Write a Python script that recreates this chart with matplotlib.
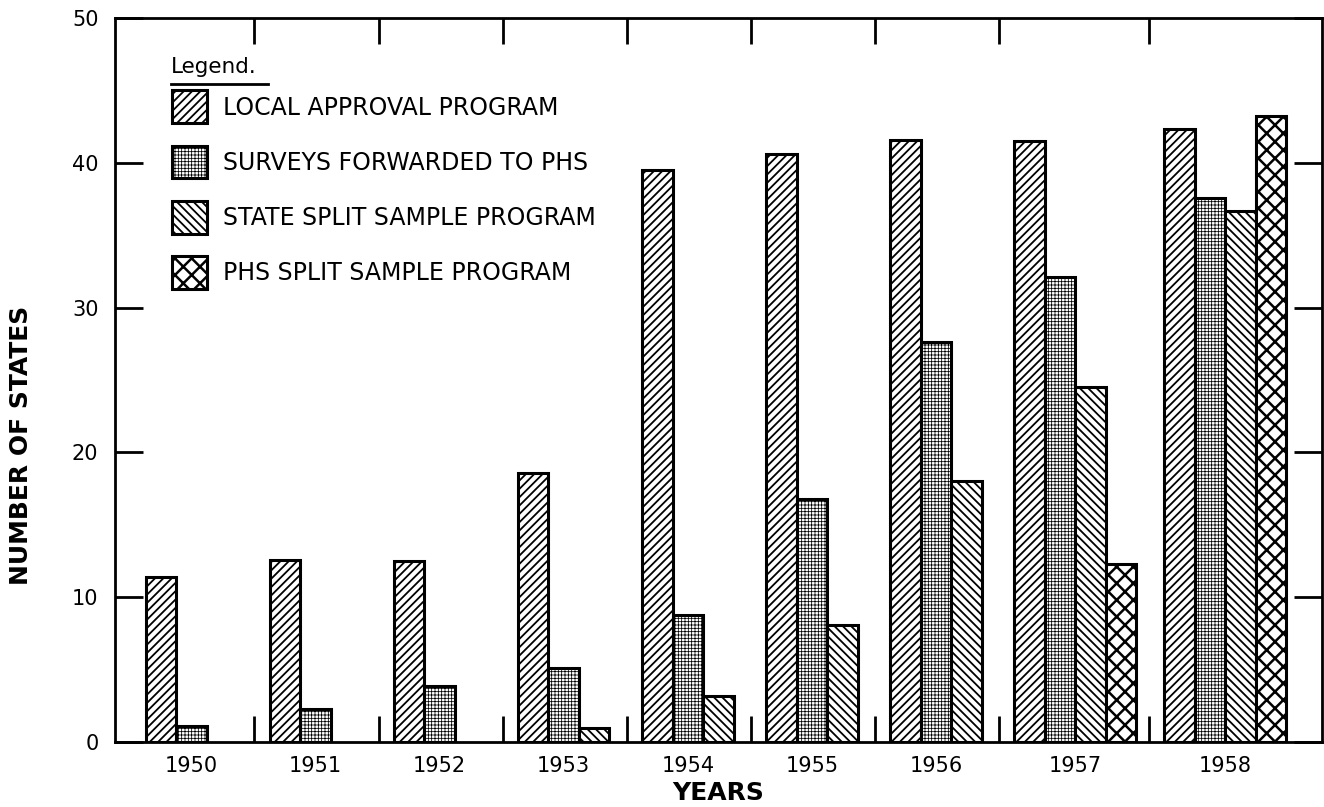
import numpy as np
import matplotlib.pyplot as plt

# data (number of states per program and year)
years = ['1950', '1951', '1952', '1953', '1954', '1955', '1956', '1957', '1958']
local_approval = [11.4, 12.6, 12.5, 18.6, 39.5, 40.6, 41.6, 41.5, 42.3]
surveys_phs = [1.1, 2.3, 3.9, 5.1, 8.8, 16.8, 27.6, 32.1, 37.6]
state_split = [None, None, None, 1.0, 3.2, 8.1, 18.0, 24.5, 36.7]
phs_split = [None, None, None, None, None, None, None, 12.3, 43.2]

names = ['LOCAL APPROVAL PROGRAM', 'SURVEYS FORWARDED TO PHS',
         'STATE SPLIT SAMPLE PROGRAM', 'PHS SPLIT SAMPLE PROGRAM']
hatches = ['////', '+++++', '\\\\\\\\', 'xx']
hatch_lw = [1.3, 0.55, 1.3, 1.8]

plt.rcParams['font.family'] = ['DejaVu Sans']
plt.rcParams['hatch.linewidth'] = 1.2

fig = plt.figure(figsize=(13.24, 8.07), dpi=100)
ax = fig.add_axes([0.0869, 0.0805, 0.9116, 0.8972])

# group layout: one bar = one x unit, last group sits a bit further right
starts = [1.0 + 4.07 * i for i in range(8)] + [34.4]
seps = [s - 0.5 for s in starts[1:]]
label_pos = [s + 1.5 for s in starts[:7]] + [s + 2.0 for s in starts[7:]]

series = [local_approval, surveys_phs, state_split, phs_split]
handles = []
for k, vals in enumerate(series):
    xs = [starts[i] + k for i in range(len(years)) if vals[i] is not None]
    hs = [v for v in vals if v is not None]
    bars = ax.bar(xs, hs, width=1.0, align='edge', color='white',
                  edgecolor='black', linewidth=2.2, hatch=hatches[k],
                  label=names[k], zorder=3)
    for b in bars:
        if hasattr(b, 'set_hatch_linewidth'):
            b.set_hatch_linewidth(hatch_lw[k])
    handles.append(bars)

ax.set_xlim(0, 1207 / 30.5)
ax.set_ylim(0, 50)

ax.set_xticks(seps)
ax.set_xticklabels([])
ax.set_xticks(label_pos, minor=True)
ax.set_xticklabels(years, minor=True, fontsize=15)
ax.tick_params(axis='x', which='major', direction='in', length=19, width=2,
               top=True, bottom=True)
ax.tick_params(axis='x', which='minor', length=0, pad=10)

ax.set_yticks(range(0, 51, 10))
ax.set_yticklabels([str(v) for v in range(0, 51, 10)], fontsize=15)
ax.tick_params(axis='y', direction='in', length=20, width=2,
               left=True, right=True, pad=12)

for sp in ax.spines.values():
    sp.set_linewidth(2)

ax.set_xlabel('YEARS', fontsize=18, fontweight='bold', labelpad=4)
ax.set_ylabel('NUMBER OF STATES', fontsize=18, fontweight='bold')
ax.yaxis.set_label_coords(-0.068, 0.41)

leg = ax.legend(handles=handles, loc='upper left', bbox_to_anchor=(0.047, 0.9),
                frameon=False, fontsize=17, handlelength=1.48, handleheight=1.77,
                labelspacing=0.94, handletextpad=0.68, borderpad=0, borderaxespad=0)
for p, lw in zip(leg.get_patches(), hatch_lw):
    if hasattr(p, 'set_hatch_linewidth'):
        p.set_hatch_linewidth(lw)
ax.text(0.046, 0.932, 'Legend.', transform=ax.transAxes, fontsize=15.5,
        va='center', ha='left')
ax.plot([0.046, 0.127], [0.909, 0.909], transform=ax.transAxes,
        color='black', lw=2, clip_on=False)

fig.savefig('out.png', dpi=100)
